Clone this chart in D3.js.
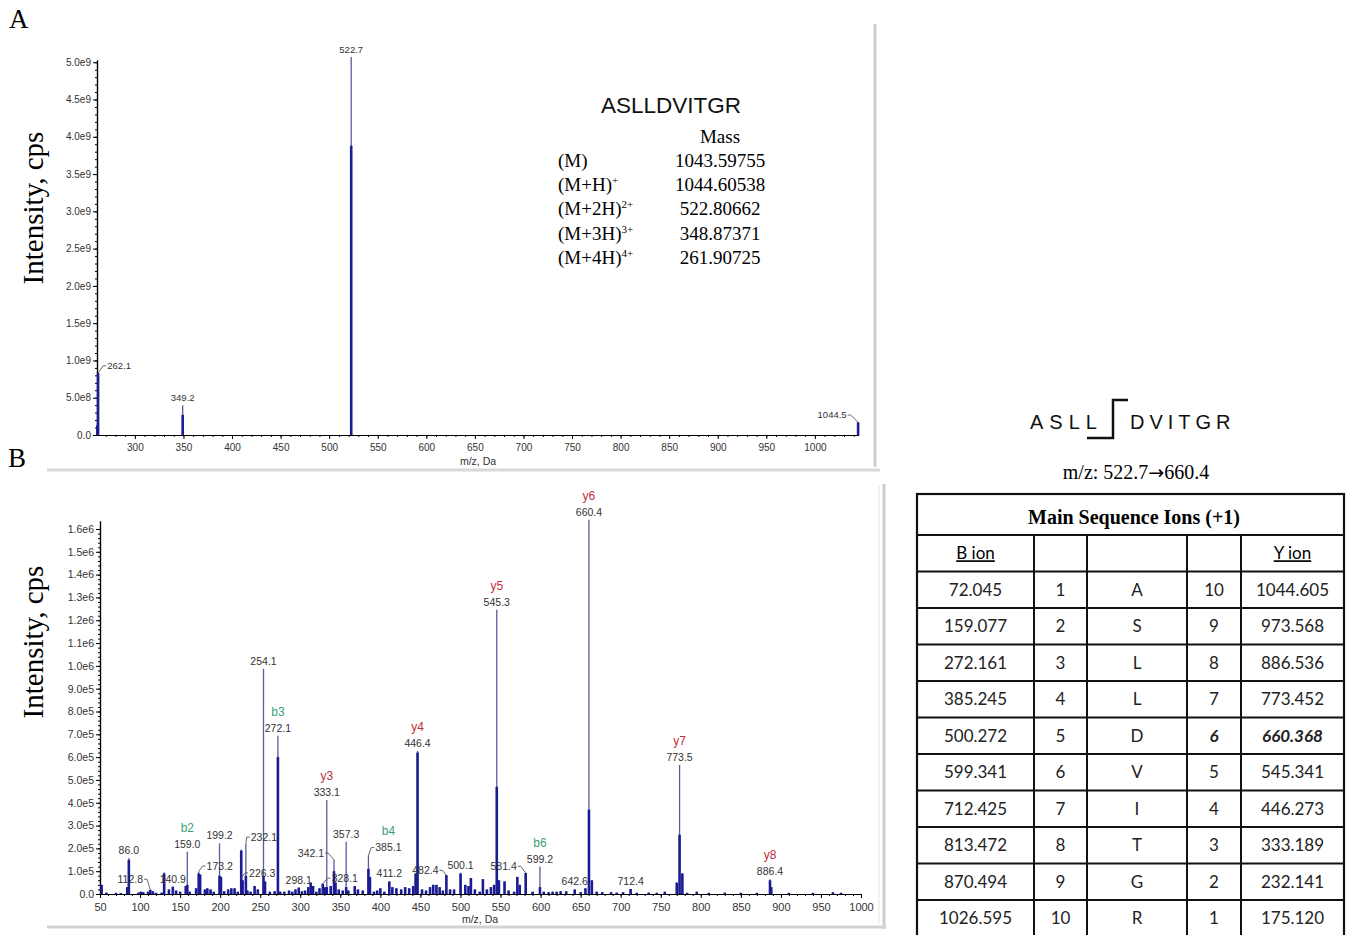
<!DOCTYPE html>
<html>
<head>
<meta charset="utf-8">
<script src="https://cdn.jsdelivr.net/npm/d3@7"></script>
<style>
body{margin:0;background:#fff;}
svg{display:block;}
</style>
</head>
<body>
<svg id="root"></svg>
<script>
var width=1347, height=935;

// ---- panel A : precursor scan ----
var peaksA_mz  =[261.4, 262.1, 349.2, 522.7, 1044.5];
var peaksA_top =[0.13e9, 0.83e9, 0.40e9, 5.07e9, 0.17e9];
var peaksA_core=[0.13e9, 0.83e9, 0.27e9, 3.88e9, 0.17e9];
var labelsA=['262.1','349.2','522.7','1044.5'];

var peptide='ASLLDVITGR';
var massRows=['(M)','(M+H)','(M+2H)','(M+3H)','(M+4H)'];
var massSup=['','+','2+','3+','4+'];
var massValues=['1043.59755','1044.60538','522.80662','348.87371','261.90725'];

// ---- panel B : product ion scan ----
var peaksB_mz  =[86.0, 130.1, 159.0, 173.2, 199.2, 226.3, 232.1, 254.1, 272.1, 333.1, 342.1, 357.3, 385.1, 446.4, 500.1, 545.3, 599.2, 660.4, 773.5, 886.4];
var peaksB_top =[1.58e5, 0.95e5, 1.85e5, 0.98e5, 2.22e5, 1.95e5, 2.2e5, 9.87e5, 6.94e5, 4.12e5, 1.5e5, 2.29e5, 1.7e5, 6.27e5, 0.93e5, 12.46e5, 1.2e5, 16.4e5, 5.66e5, 0.65e5];
var peaksB_core=[1.5e5, 0.9e5, 0.4e5, 0.9e5, 0.8e5, 1.9e5, 0.8e5, 0.8e5, 6.0e5, 0.3e5, 1.0e5, 0.3e5, 1.1e5, 6.2e5, 0.9e5, 4.7e5, 0.3e5, 3.7e5, 2.6e5, 0.6e5];

// small peaks near the baseline (intensity in 1e5 cps)
var noiseB_mz=[52.0,58.0,70.0,76.0,84.0,98.0,101.0,104.0,110.0,112.8,116.0,120.0,127.0,136.0,140.9,145.0,150.0,157.0,162.0,170.0,175.0,181.0,184.0,188.0,192.0,201.0,205.0,210.0,214.0,218.0,222.0,228.0,234.0,238.0,243.0,247.0,256.0,262.0,268.0,275.0,280.0,286.0,290.0,294.0,298.1,302.0,306.0,310.0,313.0,316.0,320.0,324.0,328.1,331.0,338.0,344.0,348.0,353.0,360.0,368.0,372.0,378.0,387.0,392.0,396.0,400.0,405.0,411.2,415.0,420.0,426.0,431.0,436.0,441.0,444.0,452.0,457.0,462.0,466.0,470.0,474.0,478.0,482.4,487.0,492.0,506.0,510.0,513.0,518.0,524.0,528.0,533.0,538.0,542.0,548.0,555.0,560.0,567.0,571.0,574.0,581.4,590.0,604.0,610.0,615.0,620.0,625.0,632.0,642.6,650.0,656.0,664.0,670.0,677.0,688.0,695.0,703.0,712.4,720.0,735.0,745.0,755.0,770.0,777.0,783.0,795.0,810.0,830.0,850.0,870.0,888.0,910.0,940.0,965.0,975.0];
var noiseB_int=[0.40,0.06,0.05,0.04,0.3,0.06,0.1,0.08,0.1,0.18,0.12,0.05,0.06,0.2,0.32,0.15,0.1,0.35,0.1,0.25,0.85,0.2,0.25,0.2,0.1,0.75,0.12,0.2,0.25,0.25,0.1,0.6,0.15,0.1,0.35,0.2,0.55,0.1,0.12,0.1,0.1,0.15,0.1,0.2,0.28,0.12,0.15,0.3,0.5,0.35,0.1,0.25,0.45,0.3,0.35,0.5,0.2,0.15,0.15,0.35,0.2,0.15,0.75,0.1,0.15,0.25,0.1,0.55,0.3,0.25,0.2,0.3,0.25,0.35,0.9,0.2,0.15,0.3,0.4,0.4,0.3,0.15,0.83,0.2,0.2,0.4,0.35,0.7,0.2,0.1,0.65,0.2,0.3,0.4,0.6,0.55,0.15,0.1,0.75,0.4,0.92,0.1,0.1,0.08,0.1,0.1,0.12,0.12,0.2,0.08,0.25,0.6,0.1,0.08,0.08,0.06,0.08,0.22,0.05,0.06,0.05,0.1,0.5,0.9,0.05,0.1,0.05,0.06,0.05,0.05,0.3,0.05,0.05,0.08,0.05];

var labelsB=['86.0','112.8','140.9','159.0','173.2','199.2','226.3','232.1','254.1','272.1','298.1','328.1','333.1','342.1','357.3','385.1','411.2','446.4','482.4','500.1','545.3','581.4','599.2','642.6','660.4','712.4','773.5','886.4'];
var ionName=['b2','b3','b4','b6','y3','y4','y5','y6','y7','y8'];
var ionLabel=['159.0','272.1','385.1','599.2','333.1','446.4','545.3','660.4','773.5','886.4'];

// ---- fragment table ----
var bIon=['72.045','159.077','272.161','385.245','500.272','599.341','712.425','813.472','870.494','1026.595'];
var bNum=[1,2,3,4,5,6,7,8,9,10];
var residues=['A','S','L','L','D','V','I','T','G','R'];
var yNum=[10,9,8,7,6,5,4,3,2,1];
var yIon=['1044.605','973.568','886.536','773.452','660.368','545.341','446.273','333.189','232.141','175.120'];
var cleaveIndex=4;

// label offsets for the ones with a leader line (pixels from peak top)
var leader={
  '262.1':[21,-4],'1044.5':[-26,-4],
  '112.8':[-20,-7],'173.2':[21,-2],'226.3':[21,27],'232.1':[18,-3],
  '328.1':[22,-2],'342.1':[-23,-3],'385.1':[20,-4],'482.4':[-21,-1],'581.4':[-22,-3]
};

var serif='"Liberation Serif","Times New Roman",serif';
var sans='"Liberation Sans",Arial,sans-serif';

var svg=d3.select('#root').attr('width',width).attr('height',height).style('background','#fff');

// screenshot borders
var fr=svg.append('g').attr('fill','none');
fr.append('line').attr('x1',875).attr('x2',875).attr('y1',24).attr('y2',467).attr('stroke','#cdcdcd').attr('stroke-width',3);
fr.append('line').attr('x1',47).attr('x2',880).attr('y1',470).attr('y2',470).attr('stroke','#d8d8d8').attr('stroke-width',3);
fr.append('line').attr('x1',879).attr('x2',879).attr('y1',486).attr('y2',924).attr('stroke','#e4e4e4').attr('stroke-width',1);
fr.append('line').attr('x1',884).attr('x2',884).attr('y1',484).attr('y2',929).attr('stroke','#cdcdcd').attr('stroke-width',3);
fr.append('line').attr('x1',47).attr('x2',886).attr('y1',927).attr('y2',927).attr('stroke','#d2d2d2').attr('stroke-width',3);

// scales
var xA=d3.scaleLinear().domain([261,1045]).range([97,858.6]);
var yA=d3.scaleLinear().domain([0,5.03e9]).range([435,60]);
var xB=d3.scaleLinear().domain([50,1000]).range([100,861]);
var yB=d3.scaleLinear().domain([0,1.635e6]).range([894,521]);

function sci(v){
  if(v===0) return '0.0';
  var e=Math.floor(Math.log10(v)+1e-9);
  return (v/Math.pow(10,e)).toFixed(1)+'e'+e;
}

function drawAxes(g,x,y,xMajor,xMinor,yMajor,yMinor,fx,fy){
  var y0=y.range()[0], x0=x.range()[0];
  var a1=g.append('g').attr('transform','translate(0,'+y0+')')
    .call(d3.axisBottom(x).tickValues(xMinor).tickSize(2).tickFormat('').tickSizeOuter(0));
  var a2=g.append('g').attr('transform','translate(0,'+y0+')')
    .call(d3.axisBottom(x).tickValues(xMajor).tickSize(4).tickPadding(5).tickFormat(d3.format('d')).tickSizeOuter(0));
  var a3=g.append('g').attr('transform','translate('+x0+',0)')
    .call(d3.axisLeft(y).tickValues(yMinor).tickSize(2).tickFormat('').tickSizeOuter(0));
  var a4=g.append('g').attr('transform','translate('+x0+',0)')
    .call(d3.axisLeft(y).tickValues(yMajor).tickSize(4).tickPadding(2).tickFormat(sci).tickSizeOuter(0));
  [a1,a2,a3,a4].forEach(function(a){
    a.select('.domain').attr('stroke','#000').attr('stroke-width',1.2);
    a.selectAll('.tick line').attr('stroke','#000');
  });
  a2.selectAll('text').attr('font-family',sans).attr('font-size',fx).attr('fill','#333');
  a4.selectAll('text').attr('font-family',sans).attr('font-size',fy).attr('fill','#333');
}

function drawPeaks(g,x,y,mz,top,core){
  var idx=d3.range(mz.length);
  g.append('g').selectAll('line').data(idx).enter().append('line')
    .attr('x1',function(i){return x(mz[i]);}).attr('x2',function(i){return x(mz[i]);})
    .attr('y1',y(0)).attr('y2',function(i){return y(top[i]);})
    .attr('stroke','#5b5b9f').attr('stroke-width',1.3);
  g.append('g').selectAll('line').data(idx).enter().append('line')
    .attr('x1',function(i){return x(mz[i]);}).attr('x2',function(i){return x(mz[i]);})
    .attr('y1',y(0)).attr('y2',function(i){return y(core[i]);})
    .attr('stroke','#1b1b93').attr('stroke-width',2.6);
}

// returns {x, baseline} of the drawn label
function drawLabel(g,x,y,txt,mz,top,size){
  var px=x(mz), pt=y(top), off=leader[txt];
  var lx=px, lb=pt-4;
  if(off){ lx=px+off[0]; lb=pt+off[1]; }
  var t=g.append('text').attr('x',lx).attr('y',lb).attr('text-anchor','middle')
    .attr('font-family',sans).attr('font-size',size).attr('fill','#333').text(txt);
  if(off){
    var w=t.node().getComputedTextLength();
    var ex=off[0]>0 ? lx-w/2-1 : lx+w/2+1;
    var ey=lb-size*0.35;
    var ty=Math.max(pt,ey+5);
    var mx=off[0]>0 ? ex-3 : ex+3;
    g.append('path').attr('d','M'+ex+','+ey+' L'+mx+','+ey+' L'+px+','+ty)
      .attr('fill','none').attr('stroke','#444').attr('stroke-width',0.8);
  }
  return {x:lx,b:lb};
}

function findPeak(lists,m){
  for(var k=0;k<lists.length;k++){
    var i=lists[k].mz.indexOf(m);
    if(i>=0) return lists[k].top[i];
  }
  return 0;
}

// ===== panel A =====
var gA=svg.append('g');
drawAxes(gA,xA,yA,d3.range(300,1001,50),d3.range(270,1041,10),
  d3.range(0,5.0e9+1,5e8),d3.range(0,5.0e9+1,1e8),'10px','10px');
drawPeaks(gA,xA,yA,peaksA_mz,peaksA_top,peaksA_core);
labelsA.forEach(function(t){
  drawLabel(gA,xA,yA,t,+t,findPeak([{mz:peaksA_mz,top:peaksA_top}],+t),9.5);
});
gA.append('text').attr('x',478).attr('y',465).attr('text-anchor','middle')
  .attr('font-family',sans).attr('font-size','10.5px').attr('fill','#333').text('m/z, Da');

// peptide mass box
gA.append('text').attr('x',601).attr('y',113).attr('font-family',sans).attr('font-size','22.5px').attr('fill','#111').text(peptide);
gA.append('text').attr('x',720).attr('y',143).attr('text-anchor','middle').attr('font-family',serif).attr('font-size','19px').text('Mass');
var mrow=gA.selectAll('.mrow').data(d3.range(massRows.length)).enter().append('g').attr('class','mrow');
var lt=mrow.append('text').attr('x',558).attr('y',function(i){return 167+i*24.2;})
  .attr('font-family',serif).attr('font-size','19px').text(function(i){return massRows[i];});
lt.append('tspan').attr('font-size','11px').attr('dy','-7').text(function(i){return massSup[i];});
mrow.append('text').attr('x',720).attr('y',function(i){return 167+i*24.2;}).attr('text-anchor','middle')
  .attr('font-family',serif).attr('font-size','19px').text(function(i){return massValues[i];});

// ===== panel B =====
var gB=svg.append('g');
drawAxes(gB,xB,yB,d3.range(50,1001,50),d3.range(50,1001,10),
  d3.range(0,1.6e6+1,1e5),d3.range(0,1.62e6,2e4),'11px','10.5px');
var noiseTop=noiseB_int.map(function(v){return v*1e5;});
drawPeaks(gB,xB,yB,noiseB_mz,noiseTop,noiseTop);
drawPeaks(gB,xB,yB,peaksB_mz,peaksB_top,peaksB_core);
var lists=[{mz:peaksB_mz,top:peaksB_top},{mz:noiseB_mz,top:noiseTop}];
var labelPos={};
labelsB.forEach(function(t){
  labelPos[t]=drawLabel(gB,xB,yB,t,+t,findPeak(lists,+t),10.5);
});
ionName.forEach(function(n,i){
  var p=labelPos[ionLabel[i]];
  gB.append('text').attr('x',p.x).attr('y',p.b-16).attr('text-anchor','middle')
    .attr('font-family',sans).attr('font-size','12px')
    .attr('fill',n.charAt(0)==='b' ? '#3a9f78' : '#c0303c').text(n);
});
gB.append('text').attr('x',480).attr('y',923).attr('text-anchor','middle')
  .attr('font-family',sans).attr('font-size','10.5px').attr('fill','#333').text('m/z, Da');

// panel letters and y titles
svg.append('text').attr('x',9).attr('y',28).attr('font-family',serif).attr('font-size','27px').text('A');
svg.append('text').attr('x',8).attr('y',467).attr('font-family',serif).attr('font-size','27px').text('B');
[208,642].forEach(function(cy){
  svg.append('text').attr('transform','translate(43,'+cy+') rotate(-90)').attr('text-anchor','middle')
    .attr('font-family',serif).attr('font-size','29px').text('Intensity, cps');
});

// ===== sequence + table =====
var seq=svg.append('text').attr('x',1030).attr('y',429).attr('font-family',sans).attr('font-size','20px').attr('fill','#111');
seq.append('tspan').attr('letter-spacing','6px').text(peptide.slice(0,4));
seq.append('tspan').attr('x',1130).attr('letter-spacing','5px').text(peptide.slice(4));
svg.append('path').attr('d','M1087,438 L1113,438 L1113,400 L1128,400')
  .attr('fill','none').attr('stroke','#111').attr('stroke-width',2.5);
var mzt=svg.append('text').attr('x',1136).attr('y',479).attr('text-anchor','middle')
  .attr('font-family',serif).attr('font-size','20px');
mzt.append('tspan').text('m/z: 522.7');
mzt.append('tspan').attr('font-family','"DejaVu Sans",sans-serif').attr('font-size','19px').text('\u2192');
mzt.append('tspan').text('660.4');

var colX=[917,1034,1087,1187,1241,1344];
var rowY=d3.scaleBand().domain(d3.range(11)).range([535,936.5]);
var tb=svg.append('g');
tb.append('rect').attr('x',colX[0]).attr('y',494).attr('width',colX[5]-colX[0]).attr('height',445)
  .attr('fill','none').attr('stroke','#111').attr('stroke-width',2.2);
tb.append('text').attr('x',1134).attr('y',524).attr('text-anchor','middle')
  .attr('font-family',serif).attr('font-weight','bold').attr('font-size','20px').text('Main Sequence Ions (+1)');
tb.selectAll('.hl').data(d3.range(11)).enter().append('line')
  .attr('x1',colX[0]).attr('x2',colX[5]).attr('y1',function(r){return rowY(r);}).attr('y2',function(r){return rowY(r);})
  .attr('stroke','#111').attr('stroke-width',2);
tb.selectAll('.vl').data(colX.slice(1,5)).enter().append('line')
  .attr('x1',function(d){return d;}).attr('x2',function(d){return d;}).attr('y1',535).attr('y2',940)
  .attr('stroke','#111').attr('stroke-width',2);
var cx=function(c){return (colX[c]+colX[c+1])/2;};
var cellFont='Lato,"Open Sans",sans-serif';
tb.append('text').attr('x',cx(0)).attr('y',rowY(0)+rowY.bandwidth()/2+6).attr('text-anchor','middle')
  .attr('font-family',cellFont).attr('font-size','17px').attr('text-decoration','underline').text('B ion');
tb.append('text').attr('x',cx(4)).attr('y',rowY(0)+rowY.bandwidth()/2+6).attr('text-anchor','middle')
  .attr('font-family',cellFont).attr('font-size','17px').attr('text-decoration','underline').text('Y ion');
var cols=[bIon,bNum,residues,yNum,yIon];
cols.forEach(function(arr,c){
  tb.selectAll('.c'+c).data(arr).enter().append('text')
    .attr('x',cx(c)).attr('y',function(d,i){return rowY(i+1)+rowY.bandwidth()/2+6;})
    .attr('text-anchor','middle').attr('font-family',cellFont).attr('font-size','17px').attr('fill','#222')
    .attr('font-weight',function(d,i){return (c>=3 && i===cleaveIndex)?'bold':'normal';})
    .attr('font-style',function(d,i){return (c>=3 && i===cleaveIndex)?'italic':'normal';})
    .text(function(d){return d;});
});
</script>
</body>
</html>
